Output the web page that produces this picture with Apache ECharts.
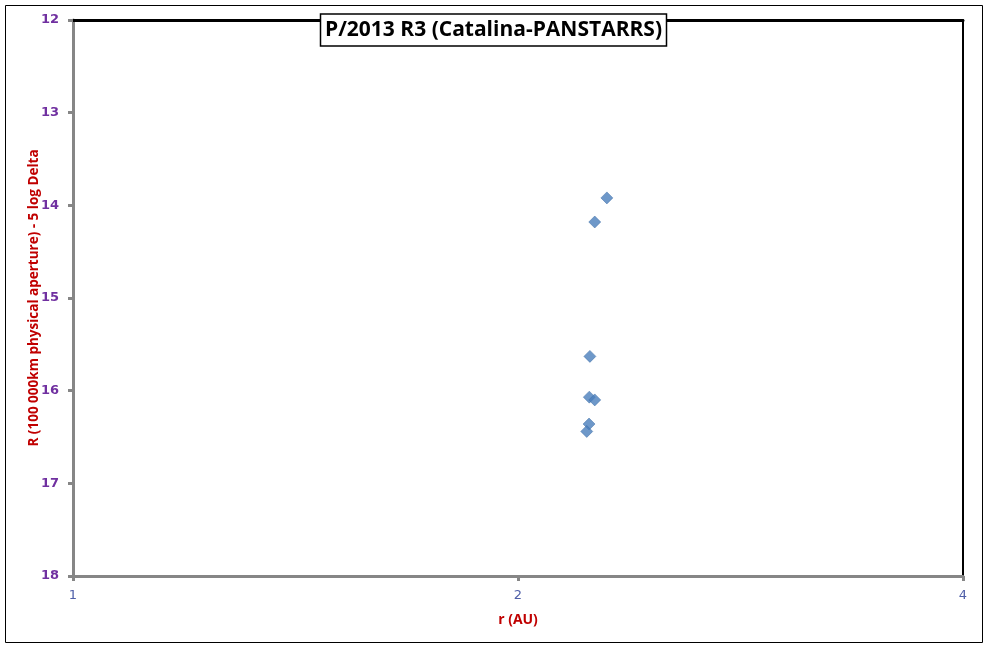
<!DOCTYPE html>
<html>
<head>
<meta charset="utf-8">
<script src="https://cdn.jsdelivr.net/npm/echarts@6/dist/echarts.min.js"></script>
<style>
html,body{margin:0;padding:0;background:#fff;}
#chart{width:987px;height:648px;}
</style>
</head>
<body>
<div id="chart"></div>
<script>
const rAU = [2.297, 2.254, 2.237, 2.235, 2.254, 2.234, 2.226];
const reducedMag = [13.92, 14.18, 15.63, 16.07, 16.10, 16.36, 16.44];
const titleText = 'P/2013 R3 (Catalina-PANSTARRS)';
const xTitle = 'r (AU)';
const yTitle = 'R (100 000km physical aperture) - 5 log Delta';

const points = rAU.map((x, i) => [x, reducedMag[i]]);

const chart = echarts.init(document.getElementById('chart'));
chart.setOption({
  backgroundColor: '#fff',
  animation: false,
  title: {
    text: titleText,
    left: 'center',
    top: 14,
    padding: [5, 5, 5, 5],
    borderColor: '#000',
    borderWidth: 1.5,
    backgroundColor: '#fff',
    textStyle: { fontFamily: 'Open Sans', fontWeight: 'bold', fontSize: 21, color: '#000', lineHeight: 22 }
  },
  graphic: [{
    type: 'rect',
    shape: { x: 5.5, y: 5.5, width: 977, height: 637 },
    style: { fill: 'none', stroke: '#000', lineWidth: 1 },
    z: -1
  }],
  grid: {
    left: 73, top: 20, right: 24, bottom: 72,
    show: false
  },
  xAxis: [{
    type: 'log', logBase: 2, min: 1, max: 4,
    name: xTitle, nameLocation: 'middle', nameGap: 37,
    nameTextStyle: { color: '#C00000', fontWeight: 'bold', fontSize: 14, fontFamily: 'Open Sans' },
    axisLine: { show: true, lineStyle: { color: '#868686', width: 3 } },
    axisTick: { show: true, length: 5, lineStyle: { color: '#868686', width: 3 } },
    axisLabel: { color: '#4F5FA8', fontSize: 13, fontFamily: 'DejaVu Sans', margin: 13 },
    splitLine: { show: false },
    minorTick: { show: false }
  }, {
    type: 'log', logBase: 2, min: 1, max: 4, position: 'top',
    axisLine: { show: true, lineStyle: { color: '#000', width: 3 } },
    axisTick: { show: false }, axisLabel: { show: false }, splitLine: { show: false }
  }],
  yAxis: [{
    type: 'value', inverse: true, min: 12, max: 18, interval: 1,
    name: yTitle, nameLocation: 'middle', nameGap: 32, nameRotate: 90, nameMoveOverlap: false,
    nameTextStyle: { color: '#C00000', fontWeight: 'bold', fontSize: 13.5, fontFamily: 'Open Sans' },
    axisLine: { show: true, lineStyle: { color: '#868686', width: 3 } },
    axisTick: { show: true, length: 5, lineStyle: { color: '#868686', width: 3 } },
    axisLabel: { color: '#7030A0', fontSize: 13, fontWeight: 'bold', fontFamily: 'DejaVu Sans', margin: 14 },
    splitLine: { show: false }
  }, {
    type: 'value', inverse: true, min: 12, max: 18, interval: 1, position: 'right',
    axisLine: { show: true, lineStyle: { color: '#000', width: 2 } },
    axisTick: { show: false }, axisLabel: { show: false }, splitLine: { show: false }
  }],
  series: [{
    type: 'scatter',
    data: points,
    symbol: 'diamond',
    symbolSize: 12,
    itemStyle: { color: '#4A7EBB', borderColor: '#3A6BA5', borderWidth: 0.6 }
  }]
});
</script>
</body>
</html>
